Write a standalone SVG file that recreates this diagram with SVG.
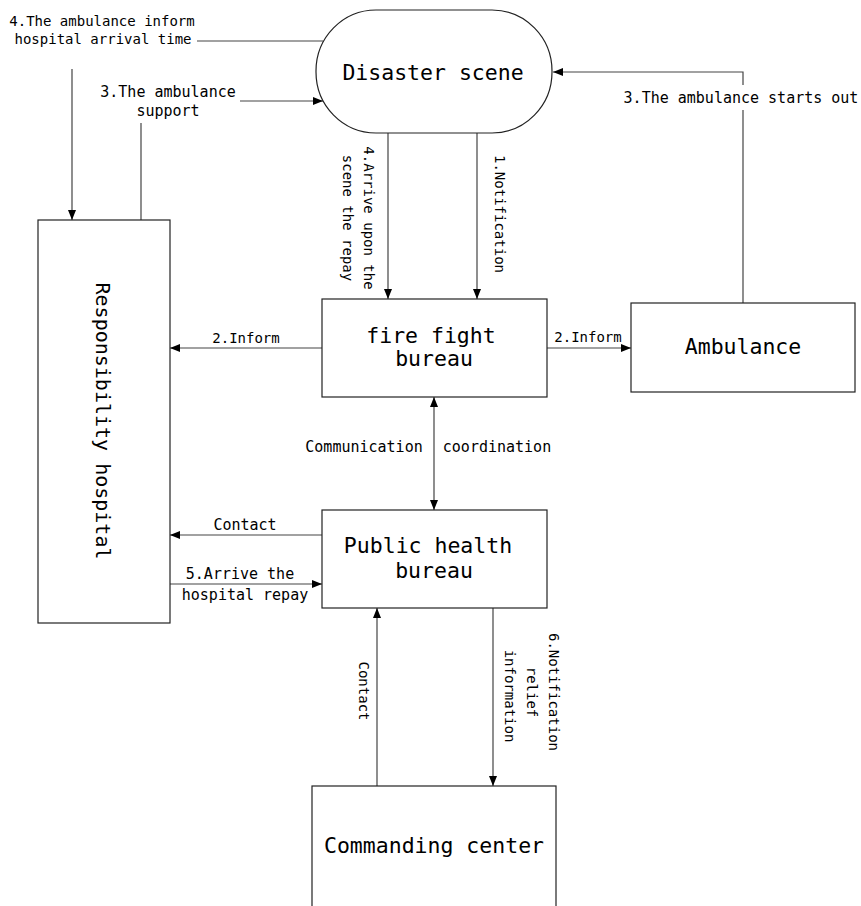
<svg xmlns="http://www.w3.org/2000/svg" width="861" height="906" viewBox="0 0 861 906">
<style>
.box{fill:#fff;stroke:#222;stroke-width:1.2}
.ln{fill:none;stroke:#444;stroke-width:1.2}
.big{font-family:"DejaVu Sans Mono","Liberation Mono",monospace;font-size:21.5px;fill:#000;text-anchor:middle}
.sm{font-family:"DejaVu Sans Mono","Liberation Mono",monospace;font-size:14px;fill:#000;text-anchor:middle}
.md{font-family:"DejaVu Sans Mono","Liberation Mono",monospace;font-size:15px;fill:#000;text-anchor:middle}
.arr{marker-end:url(#ah)}
</style>
<defs>
<marker id="ah" markerUnits="userSpaceOnUse" markerWidth="10" markerHeight="10" refX="10" refY="5" orient="auto-start-reverse" viewBox="0 0 10 10">
<path d="M0,1 L10,5 L0,9 z" fill="#000"/>
</marker>
</defs>
<rect width="861" height="906" fill="#fff"/>
<g id="connectors">
<!-- 4. ambulance inform hospital arrival time -->
<line class="ln" x1="197" y1="41" x2="323" y2="41"/>
<line class="ln arr" x1="72" y1="69" x2="72" y2="220"/>
<!-- 3. ambulance support -->
<line class="ln" x1="141" y1="220" x2="141" y2="123"/>
<line class="ln arr" x1="240" y1="101" x2="323" y2="101"/>
<!-- 4. arrive upon the scene -->
<line class="ln arr" x1="388" y1="133" x2="388" y2="299"/>
<!-- 1. notification -->
<line class="ln arr" x1="477" y1="133" x2="477" y2="299"/>
<!-- 3. ambulance starts out -->
<polyline class="ln" points="743,303 743,110"/>
<polyline class="ln arr" points="743,85 743,72 553,72"/>
<!-- 2. inform -->
<line class="ln arr" x1="547" y1="348" x2="631" y2="348"/>
<line class="ln arr" x1="322" y1="348" x2="170" y2="348"/>
<!-- communication coordination -->
<line class="ln arr" x1="434" y1="397" x2="434" y2="510" style="marker-start:url(#ah)"/>
<!-- contact -->
<line class="ln arr" x1="322" y1="535" x2="170" y2="535"/>
<!-- 5. arrive the hospital repay -->
<line class="ln arr" x1="170" y1="584" x2="322" y2="584"/>
<!-- contact from commanding -->
<line class="ln arr" x1="377" y1="786" x2="377" y2="608"/>
<!-- 6. notification relief information -->
<line class="ln arr" x1="493" y1="608" x2="493" y2="786"/>
</g>
<g id="labels">
<text class="sm" x="102" y="26">4.The ambulance inform</text>
<text class="sm" x="103" y="44">hospital arrival time</text>
<text class="md" x="168" y="97">3.The ambulance</text>
<text class="md" x="168" y="116">support</text>
<g transform="translate(369,218) rotate(90)"><text class="sm" x="0" y="0" dominant-baseline="central">4.Arrive upon the</text></g>
<g transform="translate(348,218) rotate(90)"><text class="sm" x="0" y="0" dominant-baseline="central">scene the repay</text></g>
<g transform="translate(500,214) rotate(90)"><text class="sm" x="0" y="0" dominant-baseline="central">1.Notification</text></g>
<text class="md" x="741" y="103">3.The ambulance starts out</text>
<text class="sm" x="588" y="342">2.Inform</text>
<text class="sm" x="246" y="343">2.Inform</text>
<text class="md" x="364" y="452">Communication</text>
<text class="md" x="497" y="452">coordination</text>
<text class="md" x="245" y="530">Contact</text>
<text class="md" x="240" y="579">5.Arrive the</text>
<text class="md" x="245" y="600">hospital repay</text>
<g transform="translate(364,691) rotate(90)"><text class="sm" x="0" y="0" dominant-baseline="central">Contact</text></g>
<g transform="translate(554,692) rotate(90)"><text class="sm" x="0" y="0" dominant-baseline="central">6.Notification</text></g>
<g transform="translate(532,692) rotate(90)"><text class="sm" x="0" y="0" dominant-baseline="central">relief</text></g>
<g transform="translate(510,696) rotate(90)"><text class="sm" x="0" y="0" dominant-baseline="central">information</text></g>
</g>
<g id="disaster-scene">
<rect class="box" x="316" y="10" width="236" height="123" rx="60" ry="61"/>
<text class="big" x="433" y="80">Disaster scene</text>
</g>
<g id="responsibility-hospital">
<rect class="box" x="38" y="220" width="132" height="403"/>
<g transform="translate(103,421) rotate(90)"><text class="big" x="0" y="0" dominant-baseline="central" style="font-size:20px">Responsibility hospital</text></g>
</g>
<g id="fire-fight-bureau">
<rect class="box" x="322" y="299" width="225" height="98"/>
<text class="big" x="431" y="343">fire fight</text>
<text class="big" x="434" y="366">bureau</text>
</g>
<g id="ambulance">
<rect class="box" x="631" y="303" width="224" height="89"/>
<text class="big" x="743" y="354">Ambulance</text>
</g>
<g id="public-health-bureau">
<rect class="box" x="322" y="510" width="225" height="98"/>
<text class="big" x="428" y="553">Public health</text>
<text class="big" x="434" y="578">bureau</text>
</g>
<g id="commanding-center">
<rect class="box" x="312" y="786" width="244" height="130"/>
<text class="big" x="434" y="853">Commanding center</text>
</g>
</svg>
